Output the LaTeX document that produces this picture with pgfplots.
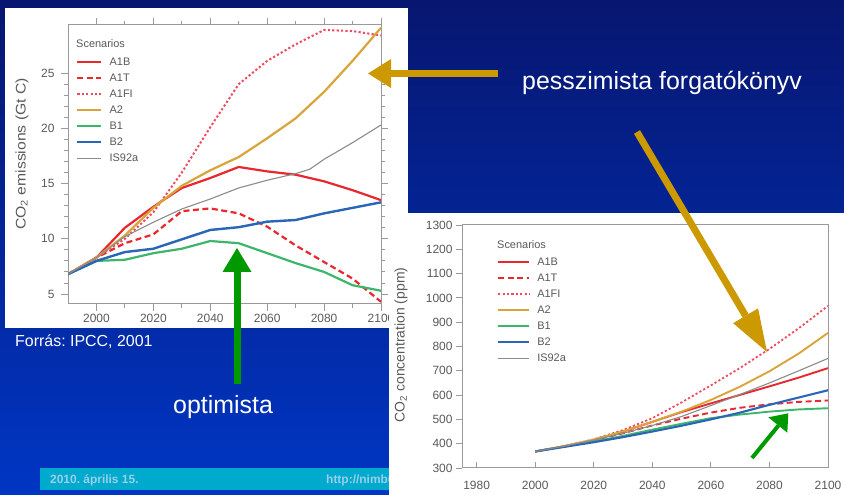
\documentclass[border=0pt]{standalone}
\usepackage{fontspec}
\setmainfont{Liberation Sans}
\usepackage{graphicx}
\usepackage{pgfplots}
\pgfplotsset{compat=1.18}
\frenchspacing

\definecolor{bgtop}{HTML}{071670}
\definecolor{bgbot}{HTML}{0036C4}
\definecolor{footbar}{HTML}{00AACC}
\definecolor{foottext}{HTML}{9CCDEE}
\definecolor{cA1}{HTML}{E8282E}
\definecolor{cA1FI}{HTML}{F04A5E}
\definecolor{cA2}{HTML}{D9A53A}
\definecolor{cB1}{HTML}{3DB66B}
\definecolor{cB2}{HTML}{2A66B5}
\definecolor{cIS}{HTML}{8C8C8C}
\definecolor{framegray}{HTML}{9A9A9A}
\definecolor{labgray}{HTML}{5A5A5A}
\definecolor{arrgold}{HTML}{CC9900}
\definecolor{arrgreen}{HTML}{009A00}

\pgfplotsset{
  sres/.style={
    scale only axis,
    axis line style={framegray, line width=1bp},
    tick style={framegray, line width=0.9bp},
    /pgf/number format/assume math mode=true,
    /pgf/number format/1000 sep={},
    ticklabel style={text=labgray, font=\fontsize{12}{14}\selectfont},
    legend cell align=left,
    every axis plot/.append style={line join=round},
  },
  sA1B/.style={cA1, line width=2.2bp},
  sA1T/.style={cA1, line width=2.2bp, dash pattern=on 6bp off 3.5bp},
  sA1FI/.style={cA1FI, line width=2bp, dash pattern=on 2.2bp off 2.2bp},
  sA2/.style={cA2, line width=2.2bp},
  sB1/.style={cB1, line width=2.2bp},
  sB2/.style={cB2, line width=2.4bp},
  sIS/.style={cIS, line width=1.1bp},
}

\begin{document}
\begin{tikzpicture}[x=1bp,y=1bp]
\useasboundingbox (0,0) rectangle (844,495);
% slide background
\shade[top color=bgtop, bottom color=bgbot] (0,0) rectangle (844,495);
\fill[white] (5,167) rectangle (408,487);
\fill[footbar] (40,5) rectangle (389,27);
\node[anchor=base west, inner sep=0pt, text=foottext, font=\bfseries\fontsize{12}{14}\selectfont] at (50,11) {2010. április 15.};
\node[anchor=base west, inner sep=0pt, text=foottext, font=\bfseries\fontsize{12}{14}\selectfont] at (326,11) {http://nimbus.elte.hu};

% emissions panel
\begin{axis}[sres,
  at={(68bp,191bp)}, anchor=south west, width=313bp, height=279bp,
  xmin=1990, xmax=2100, ymin=4.1, ymax=29.35,
  xtick={2000,2020,...,2100}, minor x tick num=1,
  ytick={5,10,...,25}, minor y tick num=4,
  tick align=outside, major tick length=7bp, minor tick length=4bp,
  yticklabel style={xshift=-3bp},
  ylabel={\scalebox{1.13}[1]{CO\textsubscript{2} emissions (Gt C)}},
  ylabel style={at={(axis description cs:-0.147,0.538)}, anchor=center, text=labgray, font=\fontsize{14}{16}\selectfont},
  legend image code/.code={\draw[#1] (0bp,0bp) -- (24bp,0bp);},
  legend style={at={(0.0256,0.885)}, anchor=north west, draw=none, fill=none, inner sep=0pt,
    font=\fontsize{11}{13}\selectfont, text=labgray,
    nodes={inner ysep=0pt, inner xsep=3bp, text height=8bp, text depth=2bp},
    row sep=6bp, column sep=4bp},
]
\addplot[sA1B] coordinates {(1990,6.8)(2000,8.3)(2010,11.0)(2020,12.9)(2030,14.6)(2040,15.5)(2050,16.5)(2060,16.1)(2070,15.8)(2080,15.2)(2090,14.4)(2100,13.5)};
\addlegendentry{A1B}
\addplot[sA1T] coordinates {(1990,6.8)(2000,8.3)(2010,9.6)(2020,10.4)(2030,12.5)(2040,12.75)(2050,12.3)(2060,11.1)(2070,9.4)(2080,7.9)(2090,6.4)(2100,4.3)};
\addlegendentry{A1T}
\addplot[sA1FI] coordinates {(1990,6.8)(2000,8.3)(2010,10.0)(2020,12.4)(2030,16.0)(2040,20.1)(2050,24.0)(2060,26.1)(2070,27.6)(2080,28.9)(2090,28.8)(2100,28.4)};
\addlegendentry{A1FI}
\addplot[sA2] coordinates {(1990,6.8)(2000,8.3)(2010,10.3)(2020,12.8)(2030,14.8)(2040,16.2)(2050,17.4)(2060,19.1)(2070,20.9)(2080,23.3)(2090,26.1)(2100,29.1)};
\addlegendentry{A2}
\addplot[sB1] coordinates {(1990,6.8)(2000,8.0)(2010,8.1)(2020,8.7)(2030,9.1)(2040,9.8)(2050,9.6)(2060,8.7)(2070,7.8)(2080,7.0)(2090,5.8)(2100,5.3)};
\addlegendentry{B1}
\addplot[sB2] coordinates {(1990,6.8)(2000,8.0)(2010,8.8)(2020,9.1)(2030,9.95)(2040,10.8)(2050,11.05)(2060,11.55)(2070,11.7)(2080,12.3)(2090,12.8)(2100,13.3)};
\addlegendentry{B2}
\addplot[sIS] coordinates {(1990,6.8)(2000,8.3)(2010,10.2)(2020,11.5)(2030,12.7)(2040,13.6)(2050,14.6)(2060,15.3)(2070,15.9)(2075,16.3)(2080,17.2)(2090,18.7)(2100,20.3)};
\addlegendentry{IS92a}
\node[anchor=west, inner sep=0pt, text=labgray, font=\fontsize{11}{13}\selectfont] at (rel axis cs:0.0256,0.935) {Scenarios};
\end{axis}

% concentration panel
\fill[white] (389,0) rectangle (844,282);
\begin{axis}[sres,
  at={(462bp,27bp)}, anchor=south west, width=366bp, height=243bp,
  xmin=1975, xmax=2100, ymin=300, ymax=1300,
  xtick={1980,2000,...,2100}, ytick={300,400,...,1300},
  xtick pos=bottom, ytick pos=left,
  xtick align=inside, ytick align=outside, major tick length=6bp,
  xticklabel style={yshift=-10bp},
  ylabel={CO\textsubscript{2} concentration (ppm)},
  ylabel style={at={(axis description cs:-0.1667,0.506)}, anchor=center, text=labgray, font=\fontsize{14}{16}\selectfont},
  legend image code/.code={\draw[#1] (0bp,0bp) -- (31bp,0bp);},
  legend style={at={(0.0956,0.868)}, anchor=north west, draw=none, fill=none, inner sep=0pt,
    font=\fontsize{11}{13}\selectfont, text=labgray,
    nodes={inner ysep=0pt, inner xsep=3bp, text height=8bp, text depth=2bp},
    row sep=6bp, column sep=4bp},
  sA1B/.append style={line width=1.9bp},
  sA1T/.append style={line width=1.9bp},
  sA1FI/.append style={line width=1.8bp},
  sA2/.append style={line width=1.9bp},
  sB1/.append style={line width=1.9bp},
  sB2/.append style={line width=2.1bp},
]
\addplot[sA1B] coordinates {(2000,368)(2010,390)(2020,415)(2030,450)(2040,490)(2050,530)(2060,566)(2070,601)(2080,636)(2090,672)(2100,711)};
\addlegendentry{A1B}
\addplot[sA1T] coordinates {(2000,368)(2010,389)(2020,414)(2030,443)(2040,475)(2050,503)(2060,528)(2070,548)(2080,562)(2090,572)(2100,578)};
\addlegendentry{A1T}
\addplot[sA1FI] coordinates {(2000,368)(2010,390)(2020,418)(2030,456)(2040,505)(2050,570)(2060,640)(2070,712)(2080,790)(2090,875)(2100,967)};
\addlegendentry{A1FI}
\addplot[sA2] coordinates {(2000,368)(2010,390)(2020,417)(2030,451)(2040,490)(2050,532)(2060,580)(2070,635)(2080,698)(2090,771)(2100,856)};
\addlegendentry{A2}
\addplot[sB1] coordinates {(2000,368)(2010,388)(2020,409)(2030,432)(2040,458)(2050,482)(2060,505)(2070,520)(2080,532)(2090,541)(2100,546)};
\addlegendentry{B1}
\addplot[sB2] coordinates {(2000,368)(2010,387)(2020,406)(2030,427)(2040,450)(2050,474)(2060,500)(2070,528)(2080,560)(2090,590)(2100,620)};
\addlegendentry{B2}
\addplot[sIS] coordinates {(2000,368)(2010,390)(2020,415)(2030,443)(2040,475)(2050,512)(2060,557)(2070,603)(2080,650)(2090,700)(2100,751)};
\addlegendentry{IS92a}
\node[anchor=west, inner sep=0pt, text=labgray, font=\fontsize{11}{13}\selectfont] at (rel axis cs:0.0956,0.918) {Scenarios};
\end{axis}

% annotations
\fill[arrgold] (391,418) rectangle (498,425);
\fill[arrgold] (368,421.5) -- (391,436) -- (391,407) -- cycle;
\draw[arrgold, line width=7bp] (637,363) -- (745.6,179.2);
\fill[arrgold] (767,143) -- (733.1,171.8) -- (758.1,186.6) -- cycle;
\fill[arrgreen] (233.5,111) rectangle (240.5,224);
\fill[arrgreen] (237,247) -- (222.5,223) -- (251.5,223) -- cycle;
\draw[arrgreen, line width=4bp] (752,37) -- (778.5,69.5);
\fill[arrgreen] (788.3,81.7) -- (768.3,77.7) -- (787.3,62.3) -- cycle;

\node[anchor=base west, inner sep=0pt, text=white, font=\fontsize{25}{30}\selectfont] at (522,405) {pesszimista forgatókönyv};
\node[anchor=base west, inner sep=0pt, text=white, font=\fontsize{25}{30}\selectfont] at (173,81) {optimista};
\node[anchor=base west, inner sep=0pt, text=white, font=\fontsize{16}{19}\selectfont] at (15,148) {Forrás: IPCC, 2001};
\end{tikzpicture}
\end{document}
